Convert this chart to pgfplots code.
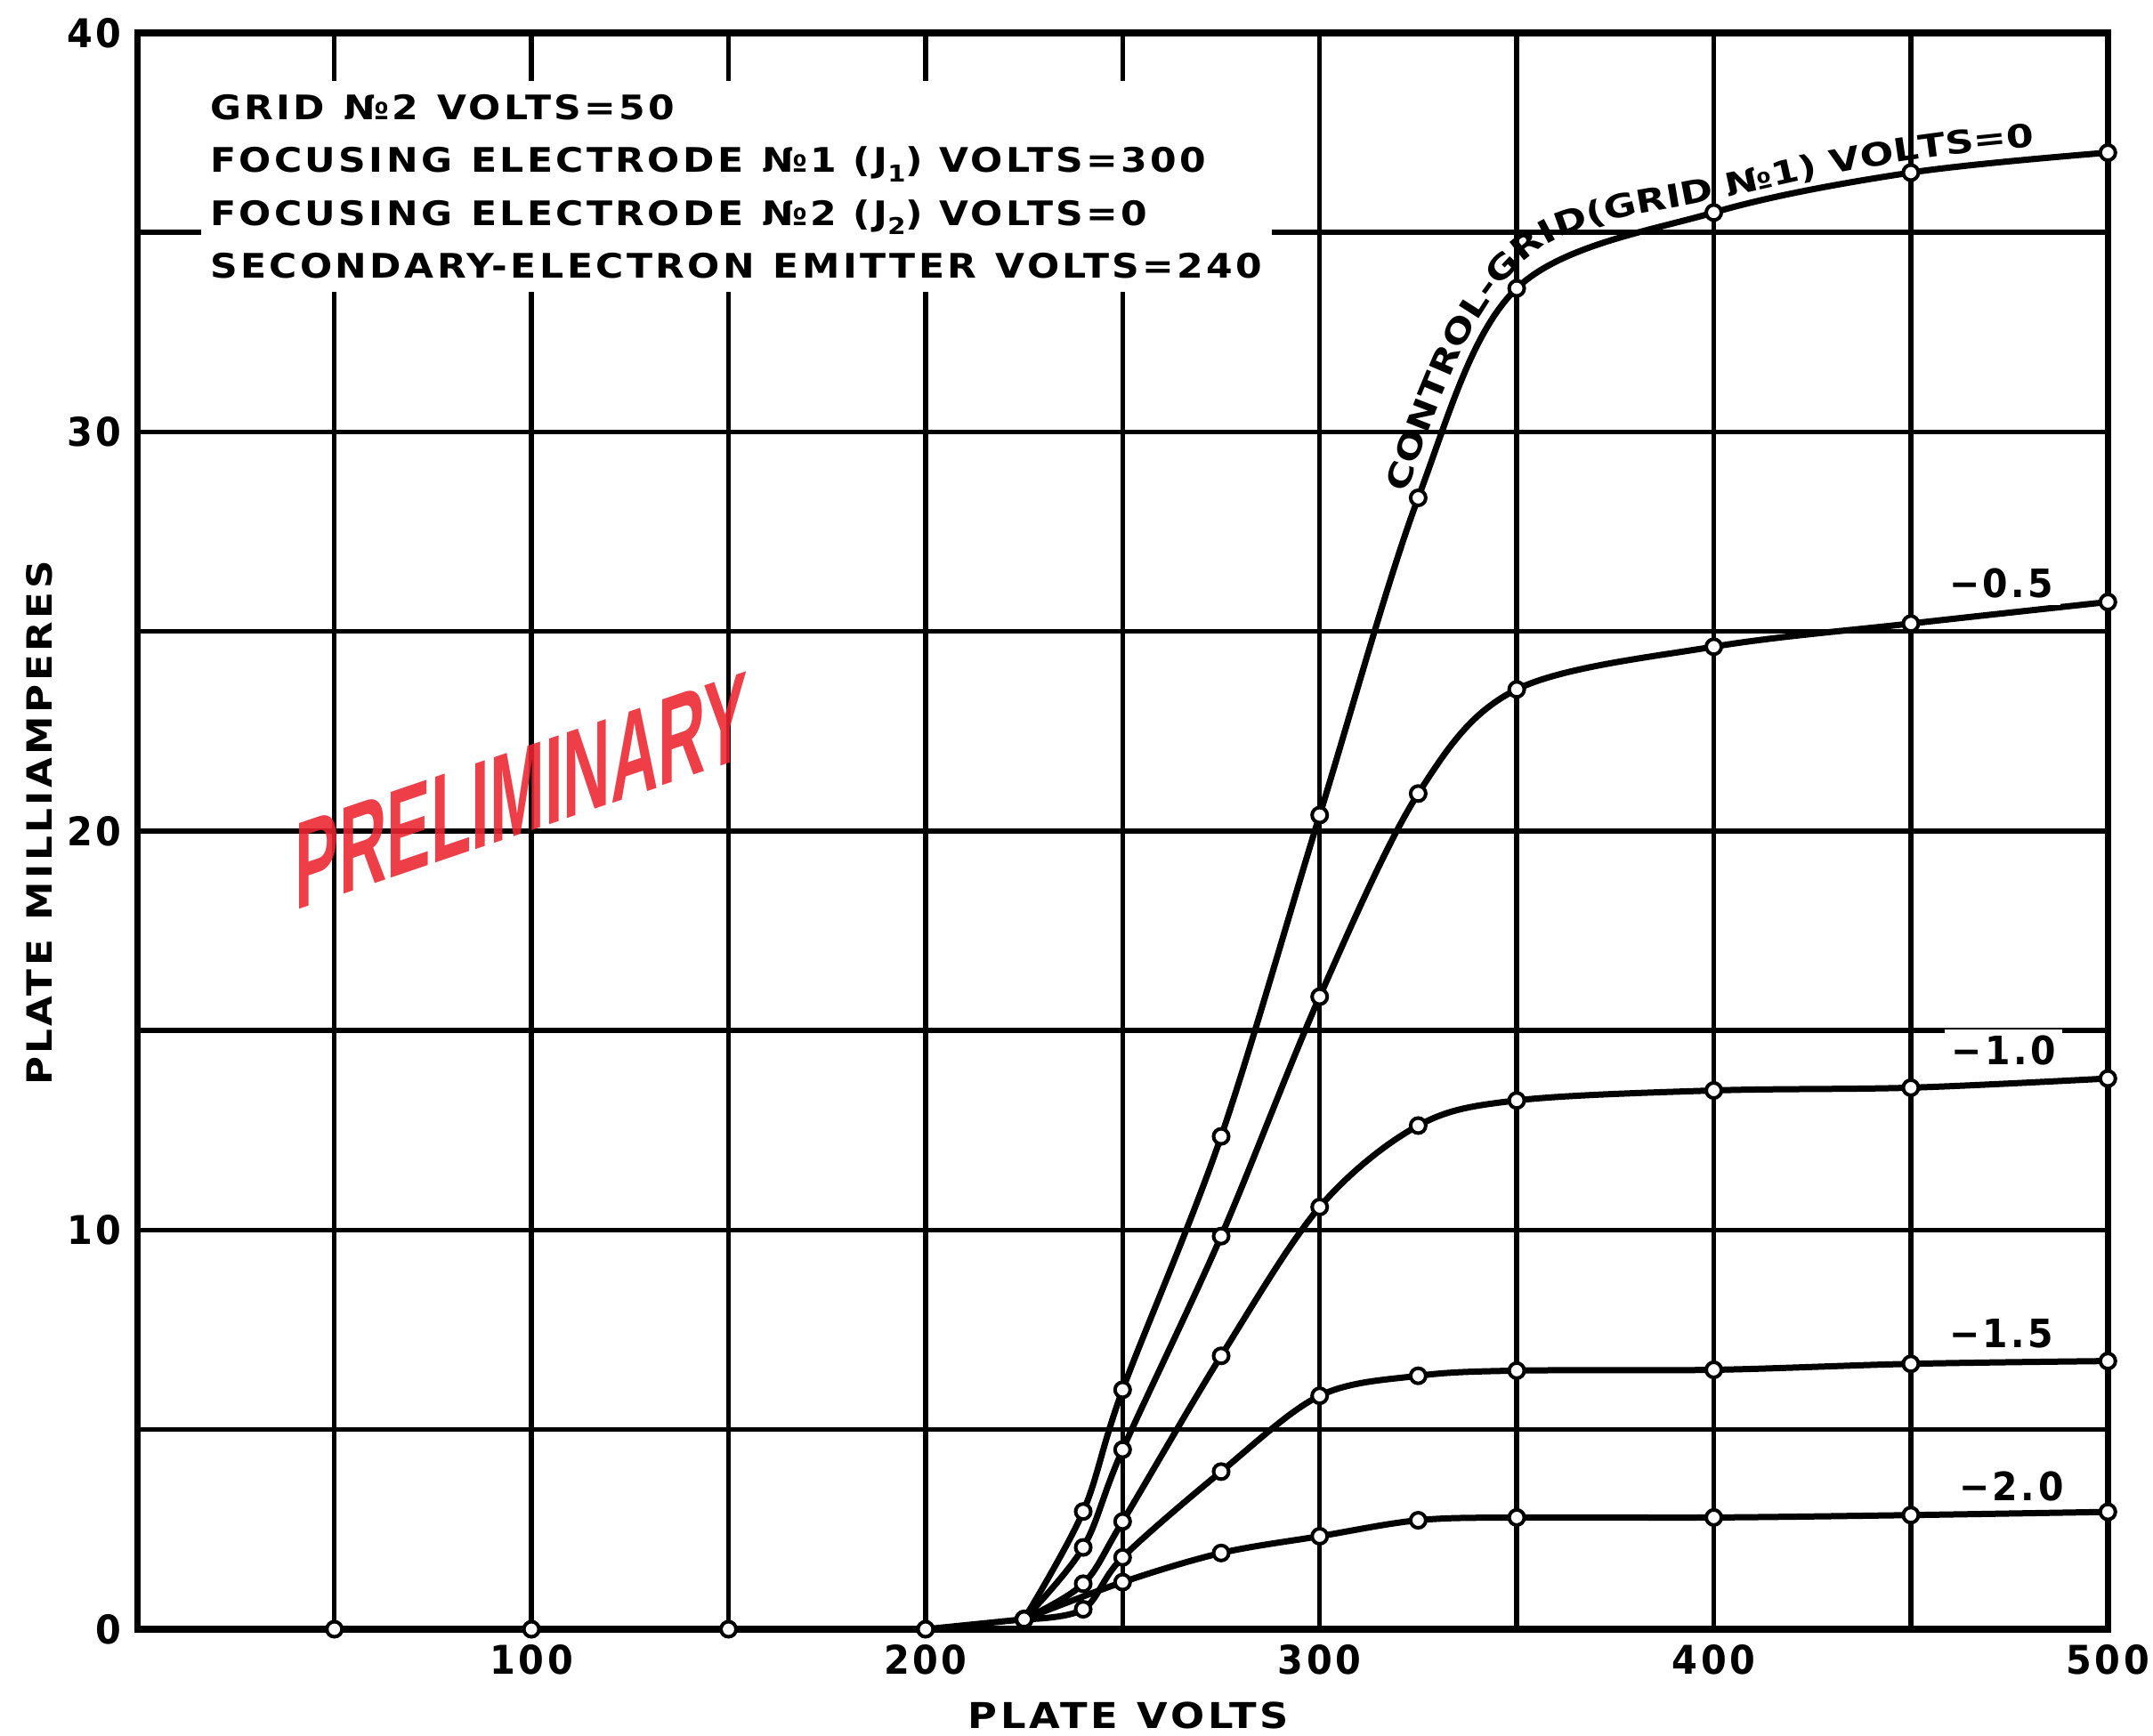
\documentclass[border=0pt]{standalone}
\usepackage{fontspec}
\usepackage{pgfplots}
\pgfplotsset{compat=1.18}
\usetikzlibrary{decorations.text}
\setmainfont{DejaVu Sans}
\newfontfamily\lettering[FakeStretch=1.12,LetterSpace=9]{DejaVu Sans Bold}
\newfontfamily\tickfont[FakeStretch=0.93,LetterSpace=8]{DejaVu Sans Bold}
\newfontfamily\curvefont[FakeStretch=1.23]{DejaVu Sans Bold}
\newfontfamily\stampfont{Liberation Sans}
\definecolor{stampred}{RGB}{236,36,48}
\newcommand\sub[1]{\raisebox{-0.5ex}{\fontsize{5.2}{6}\selectfont #1}}
\newcommand\wsp{\hspace{0.55em}}

\begin{document}
\begin{tikzpicture}
\path[use as bounding box] (-30.86pt,-24pt) rectangle (452.94pt,366.2pt);
\begin{axis}[
  name=main, at={(0,0)}, anchor=south west,
  scale only axis, width=442.8pt, height=358.8pt,
  xmin=0, xmax=500, ymin=0, ymax=40,
  xtick={100,200,300,400,500},
  minor xtick={50,150,250,350,450},
  ytick={0,10,20,30,40},
  minor ytick={5,15,25,35},
  grid=both,
  major grid style={black, line width=1.1pt},
  minor grid style={black, line width=1.1pt},
  axis line style={black, line width=1.5pt},
  major tick length=0pt, minor tick length=0pt,
  tick label style={font=\tickfont\fontsize{8.9}{10}\selectfont},
  /pgf/number format/assume math mode=true,
  clip=false,
  every axis plot/.append style={black, line width=1.4pt, mark=*, mark size=1.7pt,
     mark options={fill=white, draw=black, line width=0.8pt, solid}},
]
% flat part along zero
\addplot[sharp plot, mark indices={2,3,4,5,6}] coordinates {(0,0) (50,0) (100,0) (150,0) (200,0) (225,0.25)};
% control grid 0
\addplot[smooth, tension=0.55] coordinates {(225,0.25) (240,2.95) (250,6.0) (275,12.35) (300,20.4) (325,28.35) (350,33.6) (400,35.5) (450,36.5) (500,37.0)};
% -0.5
\addplot[smooth, tension=0.55] coordinates {(225,0.25) (240,2.05) (250,4.5) (275,9.85) (300,15.85) (325,20.94) (350,23.55) (400,24.62) (450,25.2) (500,25.74)};
% -1.0
\addplot[smooth, tension=0.55] coordinates {(225,0.25) (240,1.14) (250,2.7) (275,6.85) (300,10.58) (325,12.62) (350,13.25) (400,13.5) (450,13.57) (500,13.8)};
% -1.5
\addplot[smooth, tension=0.55] coordinates {(225,0.25) (240,0.5) (250,1.8) (275,3.95) (300,5.85) (325,6.35) (350,6.48) (400,6.5) (450,6.65) (500,6.72)};
% -2.0
\addplot[smooth, tension=0.55] coordinates {(225,0.25) (250,1.18) (275,1.91) (300,2.33) (325,2.73) (350,2.8) (400,2.8) (450,2.86) (500,2.94)};

% conditions block
\node[anchor=north west, fill=white, inner xsep=2pt, inner ysep=3pt, align=left,
      font=\lettering\fontsize{7.6}{11.9}\selectfont]
  at (axis cs:16,38.82)
  {GRID\wsp №2\wsp VOLTS=50\\
   FOCUSING\wsp ELECTRODE\wsp №1 (J\sub{1}) VOLTS=300\\
   FOCUSING\wsp ELECTRODE\wsp №2 (J\sub{2}) VOLTS=0\\
   SECONDARY-ELECTRON\wsp EMITTER\wsp VOLTS=240};

% path points for the curve label (offset above curve 0)
\coordinate (p1) at (axis cs:322.0,28.46);
\coordinate (p2) at (axis cs:332.1,31.14);
\coordinate (p3) at (axis cs:342.4,33.16);
\coordinate (p4) at (axis cs:353.0,34.36);
\coordinate (p5) at (axis cs:369.0,35.16);
\coordinate (p6) at (axis cs:399.4,35.80);
\coordinate (p7) at (axis cs:449.6,36.80);
\coordinate (p8) at (axis cs:499.7,37.31);

\node[fill=white, inner sep=1.5pt, font=\tickfont\fontsize{8.8}{10}\selectfont] at (axis cs:473,26.2) {−0.5};
\node[fill=white, inner sep=1.5pt, font=\tickfont\fontsize{8.8}{10}\selectfont] at (axis cs:473.5,14.5) {−1.0};
\node[fill=white, inner sep=1.5pt, font=\tickfont\fontsize{8.8}{10}\selectfont] at (axis cs:473,7.4) {−1.5};
\node[fill=white, inner sep=1.5pt, font=\tickfont\fontsize{8.8}{10}\selectfont] at (axis cs:475.5,3.58) {−2.0};

\coordinate (stamp) at (axis cs:97.5,21.0);
\coordinate (xl) at (rel axis cs:0.503,0);
\coordinate (yl) at (rel axis cs:0,0.505);
\end{axis}
% stamp
\node[yslant=0.34, text=stampred, opacity=0.88, font=\stampfont\bfseries\fontsize{28}{30}\selectfont]
  at (stamp) {\scalebox{0.53}[1]{PRELIMINARY}};
% curve label
\path[decorate, decoration={text along path, text align={left indent=0pt},
   text={|\curvefont\fontsize{7.2}{8}\selectfont|CONTROL-GRID(GRID №1) VOLTS=0}}]
   (p1) to[out=71,in=247.5] (p2) to[out=67.5,in=236.6] (p3) to[out=56.6,in=220.8] (p4)
        to[out=40.8,in=198.4] (p5) to[out=18.4,in=192] (p6) to[out=12,in=188.35] (p7)
        to[out=8.35,in=185.2] (p8);
% axis labels
\node[font=\lettering\fontsize{8}{9}\selectfont] at ([yshift=-19.4pt]xl) {PLATE\wsp VOLTS};
\node[font=\lettering\fontsize{7.8}{9}\selectfont, rotate=90] at ([xshift=-22pt]yl) {PLATE\wsp MILLIAMPERES};
\end{tikzpicture}
\end{document}
